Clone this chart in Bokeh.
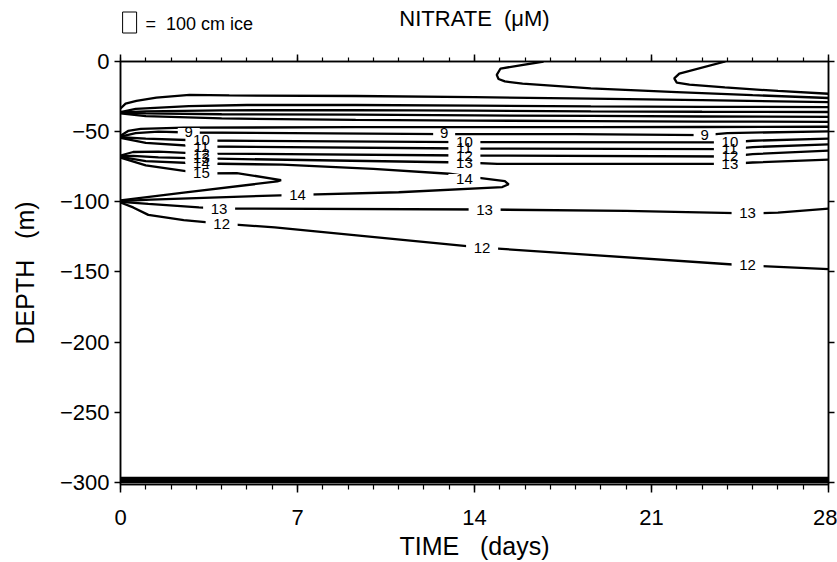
from bokeh.plotting import figure
from bokeh.layouts import column
from bokeh.models import (FixedTicker, LinearAxis, Range1d, ColumnDataSource, CustomJSTickFormatter)
from bokeh.core.properties import value
from bokeh.embed import file_html
from bokeh.resources import INLINE

# ---------------- data (time in days, depth in m) ----------------
x_ticks = [0, 7, 14, 21, 28]
y_ticks = [0, -50, -100, -150, -200, -250, -300]

notch22_t = [23.92, 22.1, 21.9, 22.0, 22.5, 23.9, 26.0, 28.0]
notch22_d = [0.0, -8.6, -12.0, -15.0, -16.5, -18.5, -21.0, -23.0]
notch15_t = [16.73, 15.03, 14.88, 14.95, 15.2, 15.9, 18.6, 22.0, 25.0, 28.0]
notch15_d = [0.0, -5.0, -9.5, -12.5, -14.2, -15.7, -19.2, -21.8, -24.0, -26.0]
a_t = [0, 0.2, 0.63, 1.42, 2.73, 4.3, 9.3, 14.0, 18.6, 23.0, 28.0]
a_d = [-33.5, -30.0, -28.0, -25.7, -23.8, -24.2, -24.6, -25.4, -26.4, -27.6, -29.0]
b_t = [0, 0.6, 2.7, 5.0, 9.3, 14.0, 18.6, 23.0, 28.0]
b_d = [-36.0, -33.8, -31.8, -31.0, -31.0, -31.5, -32.0, -32.3, -32.5]
cde_t = [0, 1.0, 4.0, 9.3, 14.0, 18.6, 23.0, 28.0]
c_d = [-36.3, -35.5, -34.8, -34.6, -35.0, -35.5, -35.8, -36.0]
d_d = [-36.6, -37.0, -37.6, -37.9, -38.4, -38.8, -39.2, -39.5]
e_d = [-37.0, -39.0, -40.6, -41.6, -42.1, -42.5, -42.8, -43.0]
f_t = [0, 0.3, 0.8, 2.5, 9.3, 14.0, 18.6, 23.0, 28.0]
f_d = [-53.0, -49.5, -48.0, -47.2, -46.8, -46.8, -46.8, -46.7, -46.5]
c9_t = [0, 0.6, 1.5, 2.7, 12.8, 18.0, 23.1, 24.0, 28.0]
c9_d = [-53.5, -51.0, -50.0, -50.6, -51.8, -51.8, -52.5, -51.0, -49.8]
c10_t = [0, 1.0, 3.2, 13.6, 24.1, 25.0, 28.0]
c10_d = [-54.0, -55.0, -56.3, -57.5, -57.7, -56.5, -55.0]
c11_t = [0, 1.0, 3.2, 13.6, 24.1, 25.0, 28.0]
c11_d = [-54.5, -58.0, -60.6, -62.0, -62.4, -61.0, -59.0]
c12_t = [0, 0.5, 1.5, 3.2, 13.6, 24.1, 25.0, 28.0]
c12_d = [-67.0, -64.5, -64.2, -65.6, -67.0, -67.7, -66.0, -63.5]
c13_t = [0, 0.5, 1.5, 3.2, 13.6, 14.9, 24.1, 25.0, 28.0]
c13_d = [-67.5, -67.3, -68.3, -69.1, -72.0, -73.0, -73.0, -72.0, -70.0]
c14_t = [0, 1.0, 3.2, 6.4, 10.0, 13.0, 14.1, 15.2, 15.35, 15.1, 11.0, 7.0, 1.2, 0]
c14_d = [-68.0, -71.0, -72.7, -73.5, -76.5, -80.0, -82.7, -85.2, -87.5, -89.5, -93.2, -95.0, -98.4, -99.5]
c15_t = [0, 1.0, 3.2, 4.6, 6.35, 6.2, 2.5, 0]
c15_d = [-68.5, -74.0, -79.8, -79.5, -84.5, -85.5, -93.4, -99.0]
c13b_t = [0, 1.1, 3.1, 3.9, 14.4, 20.0, 24.8, 26.0, 28.0]
c13b_d = [-100.0, -101.5, -104.0, -104.8, -105.5, -106.5, -108.3, -107.7, -104.8]
c12b_t = [0, 0.5, 1.1, 2.5, 4.0, 6.1, 14.3, 24.8, 28.0]
c12b_d = [-100.5, -104.0, -109.3, -113.0, -115.5, -118.3, -132.6, -145.4, -148.0]
bottom_t = [0, 28.0]
bottom_levels = [-296.8, -297.8, -298.8, -299.8]

label_text = ["9", "9", "9", "10", "10", "10", "11", "11", "11", "12", "12", "12",
              "13", "13", "13", "14", "14", "15", "14", "13", "13", "13", "12", "12", "12"]
label_t = [2.7, 12.8, 23.1, 3.2, 13.6, 24.1, 3.2, 13.6, 24.1, 3.2, 13.6, 24.1,
           3.2, 13.6, 24.1, 3.2, 13.6, 3.2, 7.0, 3.9, 14.4, 24.8, 4.0, 14.3, 24.8]
label_d = [-50.6, -51.3, -52.5, -56.3, -57.7, -57.7, -60.6, -62.0, -62.4, -65.6, -67.0, -67.7,
           -69.1, -72.0, -73.0, -72.7, -83.4, -79.8, -94.8, -104.8, -105.5, -108.3, -115.5, -132.6, -145.4]

title_text = "NITRATE\u00a0\u00a0(\u03bcM)"
legend_text = "=\u00a0\u00a0100 cm ice"

FONT = "Liberation Sans"
W, HEAD_H = 837, 50
x_range = Range1d(0, 28)

# ---------------- header strip (title + ice legend), same time axis ----------------
head = figure(width=W, height=HEAD_H, output_backend="svg", toolbar_location=None,
              x_range=x_range, y_range=Range1d(0, HEAD_H),
              x_axis_location=None, y_axis_location=None,
              min_border_left=120, min_border_right=9, min_border_top=0, min_border_bottom=0)
head.grid.visible = False
head.outline_line_color = None
head.text(x=[14.0], y=[HEAD_H - 18], text=[title_text], text_align="center",
          text_baseline="middle", text_font=value(FONT), text_font_size="22px",
          text_color="black")
head.text(x=[0.99], y=[HEAD_H - 23], text=[legend_text], text_align="left",
          text_baseline="middle", text_font=value(FONT), text_font_size="18px",
          text_color="black")
head.rect(x=[0.36], y=[HEAD_H - 22], width=14, height=21, width_units="screen",
          fill_color=None, line_color="black", line_width=1)

# ---------------- main contour plot ----------------
p = figure(frame_width=708, frame_height=423, output_backend="svg", toolbar_location=None,
           x_range=x_range, y_range=Range1d(-301.5, 0),
           x_axis_location=None, y_axis_location=None,
           min_border_left=120, min_border_right=9, min_border_top=61 - HEAD_H,
           min_border_bottom=70)
p.grid.visible = False
p.outline_line_color = "black"
p.outline_line_width = 1.5

xs = [notch22_t, notch15_t, a_t, b_t, cde_t, cde_t, cde_t, f_t, c9_t, c10_t, c11_t,
      c12_t, c13_t, c14_t, c15_t, c13b_t, c12b_t]
ys = [notch22_d, notch15_d, a_d, b_d, c_d, d_d, e_d, f_d, c9_d, c10_d, c11_d,
      c12_d, c13_d, c14_d, c15_d, c13b_d, c12b_d]
for lv in bottom_levels:
    xs.append(bottom_t)
    ys.append([lv, lv])
p.multi_line(xs=xs, ys=ys, line_color="black", line_width=2.3)

lab = ColumnDataSource(dict(x=label_t, y=label_d, text=label_text,
                            w=[10 * len(s) + 12 for s in label_text]))
p.rect(x="x", y="y", width="w", height=9, width_units="screen", height_units="screen",
       source=lab, fill_color="white", line_color=None)
p.text(x="x", y="y", text="text", source=lab, text_align="center", text_baseline="middle",
       text_font=value(FONT), text_font_size="15px", text_color="black")

xticker = FixedTicker(ticks=x_ticks, minor_ticks=list(range(29)))
yticker = FixedTicker(ticks=y_ticks, minor_ticks=[])
fmt = CustomJSTickFormatter(code="return tick < 0 ? '\u2212' + Math.abs(tick) : tick.toString();")


def style(ax, show, out, mout):
    ax.axis_line_width = 1.5
    ax.axis_line_color = "black"
    ax.major_tick_line_width = 1.5
    ax.minor_tick_line_width = 1.2
    ax.major_tick_in = 0
    ax.minor_tick_in = 0
    ax.major_tick_out = out
    ax.minor_tick_out = mout
    ax.major_label_text_font = FONT
    ax.major_label_text_font_size = "22px" if show else "0px"
    ax.major_label_text_color = "black" if show else None
    if not show:
        ax.major_label_standoff = 0
    ax.axis_label_text_font = FONT
    ax.axis_label_text_font_style = "normal"
    ax.axis_label_text_font_size = "25px"
    ax.axis_label_text_color = "black"


bottom = LinearAxis(ticker=xticker, axis_label="TIME\u00a0\u00a0\u00a0(days)")
style(bottom, True, 8, 5)
bottom.major_label_standoff = 17
bottom.axis_label_standoff = 4
p.add_layout(bottom, "below")

top = LinearAxis(ticker=xticker)
style(top, False, 7, 4)
p.add_layout(top, "above")

left = LinearAxis(ticker=yticker, formatter=fmt, axis_label="DEPTH\u00a0\u00a0\u00a0(m)")
style(left, True, 6, 0)
left.major_label_standoff = 5
left.axis_label_standoff = 18
p.add_layout(left, "left")

right = LinearAxis(ticker=yticker)
style(right, False, 6, 0)
p.add_layout(right, "right")

layout = column(head, p, spacing=0)
open("out.html", "w").write(file_html(layout, INLINE))
